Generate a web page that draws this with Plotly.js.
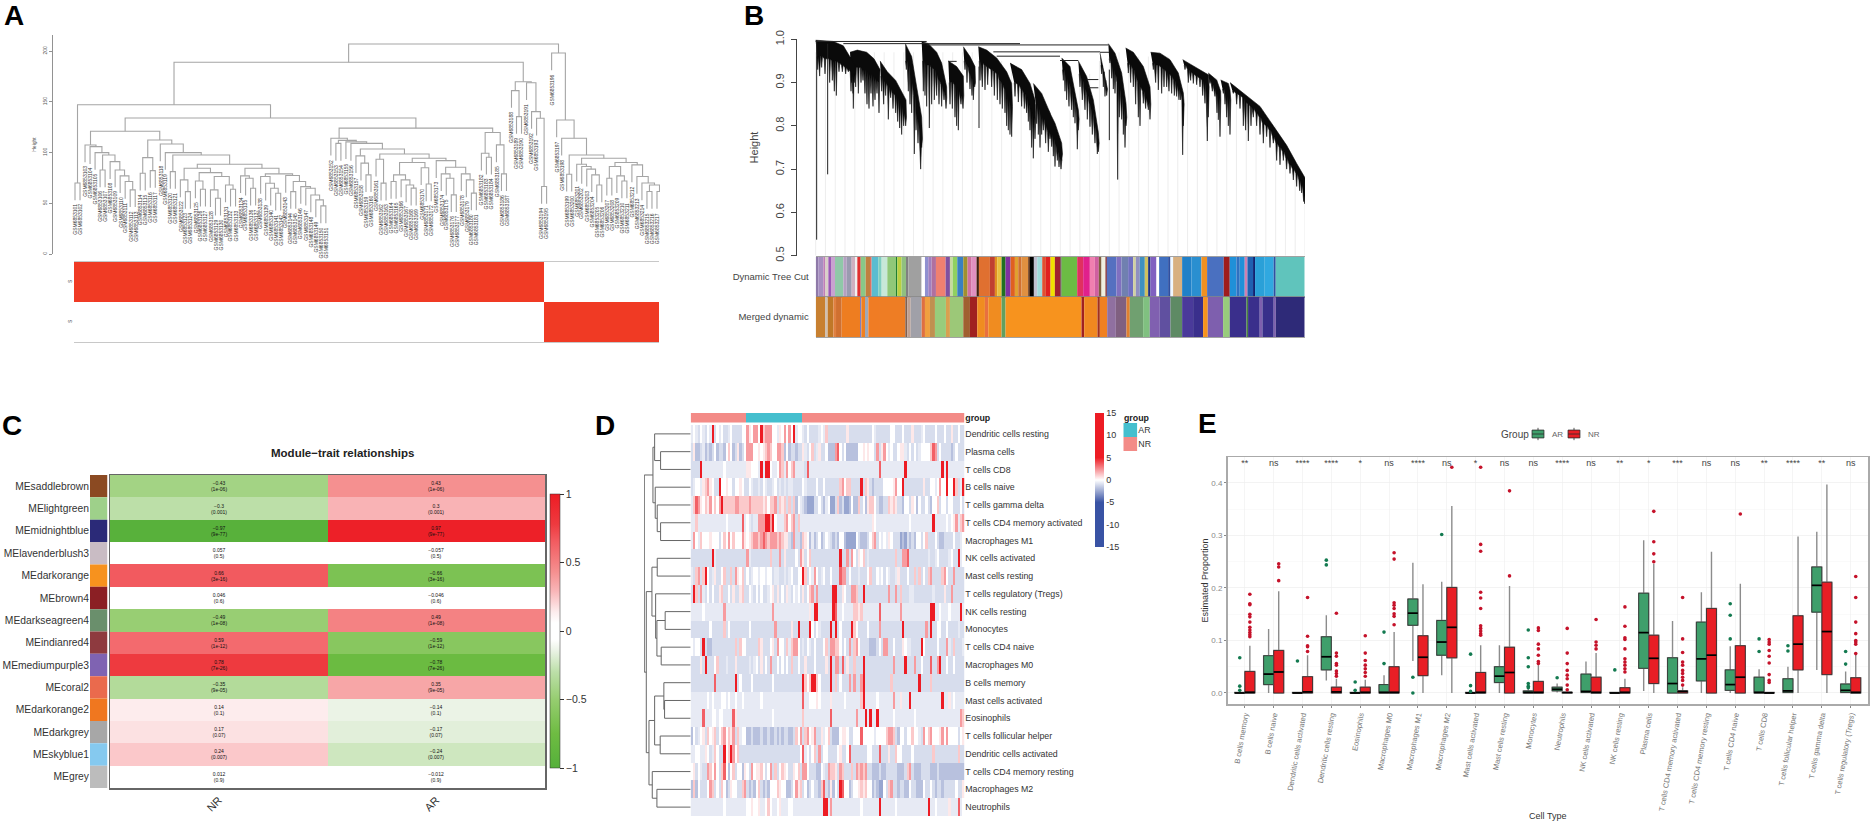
<!DOCTYPE html>
<html><head><meta charset="utf-8">
<script src="https://cdn.plot.ly/plotly-3.0.1.min.js"></script>
<style>html,body{margin:0;padding:0;background:#fff}#p{width:1870px;height:821px}</style></head>
<body><div id="p"></div>
<script>
/* ---------- Panel A: sample tree (node = [height, left, right], L = leaf) ---------- */
const L = 0;
const sampleTreeStair = [107.4,L,[105.8,L,[99.9,L,[97.6,[82.8,L,L],[91,L,[82.8,L,[77,L,[71.4,L,[63.2,L,L]]]]]]]]];
const sampleTreeMid7 = [84.5,[73,L,[61.5,L,L]],[80.2,[72,L,[63.8,L,L]],[76.3,[63.2,L,[55,L,L]],[68,L,[63.8,L,L]]]]];
const sampleTreeMid10 = [84.5,[77,L,[74.6,L,[64.8,L,L]]],[79,[76.3,L,[69.7,L,[64.8,L,[59.9,L,L]]]],[77.3,L,[71.4,[61.5,L,L],[66.4,L,[64.8,L,[58.2,L,[53.3,L,[47.4,L,L]]]]]]]]];
const sampleTreeN1 = [112.4,[95,[79.6,L,L],[82.2,L,L]],[108.4,L,[99.9,L,[97.6,[81.2,L,L],[88.4,sampleTreeMid7,sampleTreeMid10]]]]];
const sampleTreeT1 = [103.5,[96.7,L,[89.5,L,[78,L,L]]],[98.6,[93.4,L,[69.8,L,L]],[94.4,[90.1,[78,[71.4,L,L],[73,L,[68,L,[64.9,L,L]]]],[85,L,[69,L,L]]],[92,L,[85.5,[79,L,[74.7,L,[58.3,L,L]]],[79,L,[73,L,[60,L,L]]]]]]]];
const sampleTreeM = [114,L,[112,[109,L,L],[110.5,L,[109,L,sampleTreeT1]]]];
const sampleTreeG1b = [124,sampleTreeM,[119.7,[99.3,L,[95.4,L,L]],[107.5,L,[79,L,L]]]];
const sampleTreeNR = [189,[147,[70,L,L],[134,[121,sampleTreeStair,sampleTreeN1],sampleTreeG1b]],[169.8,[161,L,[135.4,L,L]],[168.8,L,[140.3,L,[133.7,L,[66.5,L,L]]]]]];
const sampleTreeAR = [198,L,[132,L,[114,L,[97.6,[78.6,L,L],[94.4,[88.5,L,[86.2,L,[83.6,L,[78,L,[68,L,L]]]]],[90.1,[86.2,[74.7,L,L],[77,L,[72,L,L]]],[87.8,L,[76.3,L,[70,L,[68,[61.6,L,L],[61.6,L,L]]]]]]]]]]];
const sampleTree = [207,sampleTreeNR,sampleTreeAR];
const sampleCounts = {NR:94, AR:23};
const sampleTicks = [0,50,100,150,200];

/* ---------- Panel B: gene tree: top arcs [rank,height], teeth [rank,rootHeight,tipHeight] ---------- */
const geneBranchTop = [
 [[0,.998],[53,.995],[83,.985],[103,.96],[118,.94]],
 [[103,.97],[125,.975],[153,.97],[175,.955],[193,.93]],
 [[193,.95],[215,.925],[240,.905],[271,.86]],
 [[269,.99],[288,.96],[303,.89],[318,.82]],
 [[318,.995],[338,.99],[363,.97],[378,.945],[393,.89]],
 [[398,.95],[423,.937],[443,.915]],
 [[443,.983],[463,.96],[478,.937]],
 [[488,.983],[513,.975],[543,.957],[573,.925],[588,.898]],
 [[583,.945],[618,.93],[643,.898],[658,.86]],
 [[653,.898],[678,.875],[703,.83]],
 [[698,.837],[718,.806],[738,.76]],
 [[738,.957],[763,.937],[788,.837]],
 [[788,.95],[813,.914],[833,.86],[848,.785]],
 [[853,.968],[873,.89]],
 [[878,.99],[898,.968],[918,.922],[931,.852]],
 [[930,.98],[953,.97],[983,.937],[1003,.89]],
 [[1005,.97],[1033,.968],[1063,.953],[1088,.922],[1103,.876]],
 [[1101,.953],[1143,.933],[1178,.918]],
 [[1178,.922],[1203,.906],[1215,.88]],
 [[1215,.906],[1238,.898],[1243,.883]],
 [[1243,.90],[1293,.87],[1333,.845],[1373,.80],[1413,.755],[1443,.713],[1468,.68]]
];
const geneBranchTeeth = [
 [[6,.96,.93],[12,.96,.915],[18,.96,.935],[28,.955,.92],[42,.955,.90],[50,.95,.905],[56,.95,.88],[62,.95,.87],[70,.945,.925],[80,.94,.925],[90,.935,.92],[98,.93,.925],[106,.925,.88],[112,.92,.875],[116,.92,.90]],
 [[108,.935,.90],[113,.93,.84],[120,.935,.89],[128,.935,.875],[136,.935,.90],[142,.93,.905],[148,.93,.875],[154,.925,.85],[160,.92,.84],[166,.92,.875],[172,.915,.845],[178,.91,.86],[184,.905,.875],[190,.90,.83]],
 [[198,.915,.88],[204,.905,.85],[210,.9,.87],[218,.89,.815],[225,.885,.865],[232,.875,.84],[240,.87,.83],[246,.865,.81],[252,.855,.795],[258,.845,.78],[264,.83,.80],[270,.82,.80]],
 [[272,.95,.93],[278,.94,.88],[283,.92,.85],[288,.90,.83],[296,.87,.735],[301,.83,.79],[307,.81,.76],[315,.76,.70],[318,.77,.75]],
 [[323,.95,.88],[328,.945,.87],[333,.94,.845],[341,.94,.795],[348,.935,.85],[356,.93,.86],[363,.92,.87],[370,.905,.85],[378,.895,.845],[385,.88,.86],[391,.865,.84]],
 [[403,.90,.85],[410,.9,.84],[418,.895,.82],[423,.89,.80],[428,.88,.79],[436,.87,.85],[442,.87,.84]],
 [[448,.95,.93],[454,.94,.90],[463,.92,.885],[469,.91,.87],[473,.9,.86],[477,.9,.89]],
 [[493,.95,.905],[500,.945,.89],[508,.94,.883],[516,.935,.895],[528,.93,.89],[536,.925,.87],[545,.92,.86],[553,.905,.85],[560,.895,.84],[568,.885,.83],[573,.87,.80],[578,.86,.79],[583,.85,.78],[588,.845,.775]],
 [[598,.90,.868],[608,.895,.855],[618,.885,.845],[626,.875,.84],[633,.865,.83],[638,.85,.81],[643,.84,.79],[648,.83,.75],[653,.82,.725],[658,.815,.77]],
 [[663,.85,.805],[668,.84,.78],[673,.83,.75],[678,.82,.78],[683,.815,.79],[690,.80,.76],[698,.785,.74],[703,.78,.77]],
 [[708,.78,.752],[713,.77,.73],[718,.76,.706],[725,.74,.72],[730,.73,.705],[736,.72,.70],[738,.735,.72]],
 [[743,.93,.905],[748,.92,.88],[753,.91,.86],[760,.90,.845],[768,.88,.837],[773,.865,.82],[778,.85,.806],[785,.82,.746],[788,.815,.79]],
 [[793,.92,.89],[800,.905,.86],[808,.885,.837],[815,.87,.815],[823,.85,.798],[830,.83,.78],[838,.80,.76],[845,.77,.735],[848,.76,.74]],
 [[858,.94,.92],[863,.925,.89],[868,.905,.868],[873,.885,.87]],
 [[883,.955,.945],[888,.94,.91],[893,.93,.885],[898,.92,.875],[906,.90,.676],[911,.885,.82],[918,.87,.815],[923,.84,.78],[928,.82,.75],[931,.82,.80]],
 [[938,.945,.922],[945,.94,.90],[953,.93,.89],[960,.915,.85],[968,.90,.82],[973,.89,.80],[983,.88,.852],[990,.865,.84],[998,.855,.837],[1003,.85,.815]],
 [[1013,.945,.93],[1020,.94,.90],[1028,.94,.883],[1038,.935,.875],[1045,.93,.89],[1053,.925,.89],[1060,.92,.88],[1068,.915,.875],[1076,.905,.87],[1083,.895,.868],[1090,.885,.86],[1095,.875,.86],[1101,.86,.733],[1103,.85,.80]],
 [[1108,.94,.93],[1118,.93,.90],[1125,.925,.905],[1133,.92,.898],[1143,.915,.895],[1153,.91,.89],[1161,.905,.87],[1168,.90,.852],[1175,.895,.765],[1178,.89,.82]],
 [[1183,.905,.898],[1190,.895,.88],[1198,.885,.868],[1204,.875,.83],[1208,.865,.814],[1213,.86,.775]],
 [[1223,.885,.875],[1228,.875,.85],[1233,.87,.82],[1238,.865,.80],[1243,.86,.78]],
 [[1253,.88,.875],[1263,.875,.85],[1273,.87,.84],[1283,.865,.80],[1290,.855,.79],[1298,.85,.765],[1306,.845,.80],[1313,.84,.82],[1323,.83,.80],[1333,.82,.78],[1343,.805,.76],[1353,.80,.775],[1363,.79,.75],[1373,.775,.76],[1383,.76,.72],[1393,.75,.71],[1403,.74,.72],[1413,.725,.70],[1423,.71,.69],[1433,.70,.675],[1443,.69,.66],[1452,.675,.65],[1458,.665,.645],[1464,.65,.625],[1467,.645,.62]]
];
const geneSpikes = [[3,.998,.537],[36,.99,.688],[490,.937,.795],[881,.93,.767]];
const geneTopLinks = [[.995,0,333],[.99,83,613],[.987,333,878],[.971,533,853],[.961,543,733],[.951,733,788],[.907,813,848],[.888,818,848],[.949,398,423],[.97,853,880]];
const geneGuideTops = [.97,.97,.97,.97,.97,.97,.97,.97,.97,.97,.97,.97,.97,.97,.97,.97,.97,.97,.96,.95,.94,.93,.90,.875,.83,.76,.937,.93,.92,.95,.97,.97,.97,.96,.96,.96,.96,.92,.94,.93,.92,.91,.905,.885,.87,.85,.82,.80,.75,.72,.68];
const geneAxisTicks = [0.5,0.6,0.7,0.8,0.9,1.0];
/* module bands: last gene rank of each band, then its colour */
const treeCutEnds = [8,23,28,38,46,58,83,93,108,118,125,135,150,163,168,188,198,215,241,245,258,271,278,318,328,338,348,361,390,403,411,425,443,456,468,483,490,523,538,545,558,570,585,598,608,618,638,643,655,665,680,691,705,718,735,738,785,803,823,838,850,858,870,874,903,918,938,953,961,973,988,998,1005,1023,1031,1058,1065,1073,1100,1128,1158,1175,1225,1243,1263,1273,1288,1296,1313,1319,1348,1375,1381,1468];
const treeCutColors = ['#8e79a8','#a78fc0','#c07fb8','#d9cfc9','#9b59b6','#c8a2d0','#8fc8a8','#b4a0c0','#9a9ab0','#d0b0c0','#f0f0f0','#e03030','#88c888','#c08040','#e07060','#5bbcd0','#80cfc0','#c8e8d8','#90c878','#208030','#b8d040','#90c080','#808080','#a0a0a0','#ffffff','#9090d0','#a080c0','#b070a0','#f08070','#8050a0','#c8d8a0','#90d060','#3a80c0','#a09030','#d070a0','#e090c0','#402010','#e07030','#c04030','#e09020','#e8c040','#207020','#8030a0','#e06020','#e0a030','#d07030','#e09040','#603010','#000000','#c0c0d0','#a0d8d8','#e05030','#e02020','#f0e000','#a02030','#333333','#6cbc44','#e03060','#e0208c','#f080b0','#d060a0','#806040','#f0f0e0','#802020','#5570c0','#8070c0','#7080b0','#7070c0','#d0d0a0','#9090c0','#4090c0','#d0c060','#203080','#8060c0','#ffffff','#4070c0','#3050a0','#f0f8ff','#d8b080','#2080c8','#2a8fd0','#f09020','#4a70c0','#a01c1c','#2090d8','#3070c0','#2090d8','#d080b0','#2060b0','#102070','#2aa0d8','#30a8e0','#3050a0','#60c4bc'];
const mergedEnds = [28,36,53,61,78,133,137,148,158,193,269,275,285,318,328,343,358,391,403,443,463,485,508,518,558,570,798,806,846,853,875,901,933,943,983,1003,1033,1065,1100,1133,1163,1177,1223,1243,1293,1298,1333,1341,1375,1381,1468];
const mergedColors = ['#c88030','#d0c0b0','#c07828','#e08040','#d07030','#ee7d20','#8080c0','#f08020','#a0a8b8','#f07c24','#ee7d24','#806050','#c0a090','#a0a0a8','#e07040','#f0a040','#c09050','#98cc7c','#d8a050','#9cc878','#a06030','#a02020','#f08c20','#e87040','#f08c20','#60a060','#f7931e','#a02020','#f08820','#a03020','#f08020','#9070a0','#806080','#e08030','#70a070','#80c080','#8060b0','#6050a0','#5e8a64','#4a3a9a','#3a2f8c','#f7931e','#7e5fae','#98cc7c','#3a2f8c','#4a8040','#3a2f8c','#7e5fae','#382f8a','#7e5fae','#2e2a78'];

/* ---------- Panel C ---------- */
const moduleNames = ['MEsaddlebrown','MElightgreen','MEmidnightblue','MElavenderblush3','MEdarkorange','MEbrown4','MEdarkseagreen4','MEindianred4','MEmediumpurple3','MEcoral2','MEdarkorange2','MEdarkgrey','MEskyblue1','MEgrey'];
const moduleColors = ['#8b4a22','#9ed08a','#2b2a78','#c9bcc4','#f7921e','#8b1f24','#6a8f6c','#8e3a3f','#7f63b2','#ea6a4d','#f0771f','#a7a7a7','#85c9ef','#bcbcbc'];
const traitNames = ['NR','AR'];
const corrNR = [-0.43,-0.3,-0.97,0.057,0.66,0.046,-0.49,0.59,0.78,-0.35,0.14,0.17,0.24,0.012];
const corrAR = [0.43,0.3,0.97,-0.057,-0.66,-0.046,0.49,-0.59,-0.78,0.35,-0.14,-0.17,-0.24,-0.012];
const corrP = ['1e-06','0.001','9e-77','0.5','3e-16','0.6','1e-08','1e-12','7e-26','9e-05','0.1','0.07','0.007','0.9'];

/* ---------- Panel D ---------- */
const cellRows = ['Dendritic cells resting','Plasma cells','T cells CD8','B cells naive','T cells gamma delta','T cells CD4 memory activated','Macrophages M1','NK cells activated','Mast cells resting','T cells regulatory (Tregs)','NK cells resting','Monocytes','T cells CD4 naive','Macrophages M0','B cells memory','Mast cells activated','Eosinophils','T cells follicular helper','Dendritic cells activated','T cells CD4 memory resting','Macrophages M2','Neutrophils'];
const rowTree = [46.7,[38,[36.3,L,[30.3,L,L]],[35.7,L,[33.7,L,[30.3,L,L]]]],[44.7,[39,[33.7,L,L],[35.3,L,[34,[25.7,L,L],[29.7,L,L]]]],[42,[36.3,[27,L,[26.3,L,L]],[30.7,L,L]],[38.7,L,[34,L,L]]]]];
const scoreLevels = {a:-2.6,b:-1.8,c:-1,l:-.6,w:0,p:.5,q:1.2,r:2.2,s:3.5,t:5};
const scoreRows = [
'lwlcwlcwlt cwlwcclwcc ccwwrpwrrw tqrrrwwlpw rwrwtlwwlc wcccclwlqc cccccccpcc ccccccccwl ccccccwwcc cwcccpcccl wccccwcccw ccpccwcc',
'cpbbclbcbc wbccbwqwbc pbcwrrrwwp wpqrqwwrrq bwbccbccpl cwqclpccwb bbrswcwbbb bbwwpwpwwc rcprwlwccw pplcwcwclw wwwqsrcwcc ccbcwccc',
'cccctlllll llllwlllll llllppwwwl tlttwllwrq lrwqrllllc slllllllll llllllllll llllllllll lsllllllll lltlllllll lllllllltl tlllllll',
'clwwlpqrpw cctwwpwwcw wpwccwlccl cwlcclwclc lcllccccwl ccccwccwcc ccccqrwqqc ccctcqpcbc cccwwwwprw wtcccccccc pccwwlwrww twwtqclt',
'lqsrpwqprw qwrtqqqqqr rqqqqrqqqq qpqwqqrcqp qcqcqbwlcb aaaccwcblw aacqbcaabw bbqcwbpqqw cbbccqpqpc cbwwcpwbwc cwcbwwqcww cwwcccwc',
'llqlllllll lllllwllll llslwlcllr rrttrtwlll qrwqrcqlll llllllllll llllllllll llllllllpw llllllllll llllwlllll lllltlllll wlwprlqr',
'lrwlqwwwpw wwcwqwrwqw wwrpwpqrrq rsrqrrrqrq ppcbrccbqp wblbcwbcwl cbcbwwbaaa awcbbbcwqr cwlwlpwccc abacbcbwwc wqcccwcbbc cccwcclw',
'ccccccccct lccccccccc ccccrlcccc ccccqcccrc pccccwcrpc wqcccccccc cccctccrcr wcpwqclccc ccccccccqc crrscccccc cclcclwccc clwcctlw',
'lcqrcqtwcl pccwqccqcr pwqcwclwwl wwlwwcllcc lclwccwwtq cwlrwclwcc wcccsrrcwc cclcccwqcc wlwcwlcclp cccwccqcqc wcqrccccqr wccrcccc',
'ctqcrlcwcw ccpqccwcpc cpqccwlcwc wcclwpcpcw cplcwlwcpc wqrcrccccc cttccpwccr rqcctccccc cccccrccrc qcccllcccc cccclccccp ccrccccc',
'lllllwllll llllrlllll llllllllll lllllrllll llllllllll lplttlllll ltsllwllll qqpqllllll lsllllllll rlllllllll llltt llwll lwlllltl',
'ccccccccwc ccccqcwccc cccccwcccc ccccccrccc cccpcctccc ctwcwlcccc tctcwcccct qwccccwccc crcccccccc ctcccccccc crctccwwcc wcccclcc',
'wlwwctcbbc cccccccccq cqwwcccccq pcccwpcrww cqlqrrwclc wlcwcccwqc rrqqwcwcrc qrwccccbbb cwcrrccwcc cpwllcccct wcccccwccc rlcqcccl',
'ccccpctccc wqccclcccp ccccclclwc pcwcrccwcw cwcqccwccp cccwccccpc tcrrcscpcc qccctccccc cccccccrcc cctcccrccw cccsccrtcc wccwcccc',
'cccccccccc scccccccct cwccccwccc cccccwcccc cccccccctq wqttqwcccc tcqcwcccrc rccrtccccc ccccccqccc cccccccctc cccqcccccc cccccccc',
'lllllllwlw lllwwlwllw llwlllllll wlllllllll llllllllsl lwwwpwllll plllllwlll lllqtlllll wllllllrll pllltlllll lllllllltl lplwllll',
'lllllslllw wlwwllllsp llllllllll lllllwllll llllllllql llllllllll slllllllll lrllltltll tllllllwll llllllwlll llllllllll llllllrq',
'bwclwpcqwp qcwqrwqprc qlwwbbcbbb cbbcbbcbcb ccbbcqwrcq rwprccplwq cbbbwppwcc wwwswwwwwl wwwwqrrqcb wwcwwqwwlc rwqrwwwprw rwwwwcwp',
'llwwllpwcl qwcctwqtrw qccccccccc cccccccccc cccccccwsl wcwqcrcwwc cccwpccwsc ccccccwwcc cscccpccqw wccccwcccc ccccqccccc cccccqcc',
'wpcwlccrqw rwcqswbwqc wwbpwcrwpp qwcwrcqcwq pwccpwqcrr wcccbbwlcr qqpcrqcccq crqrqrccbb bcbbcccccb bbcqrcbbbc cccbbbcbbb bbbbbbbb',
'bqbwcccwrq cwcqwbcpww ccqrcbcbwq cbcbwwwqpw wbbcwrpqcw bcwccbqscb pbwctswwbc wwpqpqwwbc baawcqrccb ccbbwccbbb wccwcbccbc ccccwccp',
'llllllllll llllwlllll llllwwpwwp llwqwllwpl llwwllllll lllllllttl rlllllllll lllwllllll ltllllllwl llllllllll lltllwllll lplllslw'
];
const groupNames = ['AR','NR'];
const sampleGroupCounts = [['NR',24],['AR',24],['NR',70]];
const scoreTicks = [15,10,5,0,-5,-10,-15];

/* ---------- Panel E ---------- */
const cellTypes = ['B cells memory','B cells naive','Dendritic cells activated','Dendritic cells resting','Eosinophils','Macrophages M0','Macrophages M1','Macrophages M2','Mast cells activated','Mast cells resting','Monocytes','Neutrophils','NK cells activated','NK cells resting','Plasma cells','T cells CD4 memory activated','T cells CD4 memory resting','T cells CD4 naive','T cells CD8','T cells follicular helper','T cells gamma delta','T cells regulatory (Tregs)'];
const signif = ['**','ns','****','****','*','ns','****','ns','*','ns','ns','****','ns','**','*','***','ns','ns','**','****','**','ns'];
const arQ1  = [0,.016,0,.044,0,0,.129,.072,0,.02,0,.004,.001,0,.047,0,.023,.005,0,.001,.154,.001];
const arMed = [0,.036,0,.069,0,.001,.152,.097,0,.032,.001,.007,.003,0,.115,.018,.065,.016,.001,.004,.205,.005];
const arQ3  = [.001,.071,.001,.107,.001,.016,.179,.138,.001,.05,.004,.011,.036,.001,.19,.067,.135,.044,.03,.027,.24,.017];
const arLow = [0,0,0,.024,0,0,.061,.034,0,0,0,.001,0,0,.004,0,0,0,0,0,.044,0];
const arUp  = [.001,.122,.001,.148,.001,.034,.248,.212,.001,.091,.01,.018,.06,.001,.291,.137,.192,.089,.045,.05,.307,.041];
const nrQ1  = [0,0,0,0,0,0,.033,.067,0,0,0,0,0,0,.018,0,0,0,0,.044,.035,0];
const nrMed = [.001,.04,.002,.002,.001,.001,.068,.125,.001,.039,.001,.001,.001,.001,.066,.003,.072,.03,0,.093,.117,.001];
const nrQ3  = [.041,.081,.031,.011,.011,.05,.109,.201,.039,.087,.022,.001,.03,.01,.11,.004,.161,.09,.001,.147,.211,.029];
const nrLow = [0,0,0,0,0,0,0,0,0,0,0,0,0,0,0,0,0,0,0,0,0,0];
const nrUp  = [.09,.194,.072,.027,.025,.116,.207,.356,.091,.204,.053,.002,.076,.027,.246,.011,.269,.208,.001,.298,.397,.075];
const arOut = [[.067,.013,.005],[],[.061],[.253,.244],[.021,.005],[.116,.056],[.03,0],[.302],[.074,.014,.003],[],[.12,.067,.05,.018,.013,.01],[.029],[],[.044],[],[],[],[.17,.148,.103],[.103,.079],[.09,.08],[],[.079,.055]];
const nrOut = [[.188,.17,.168,.15,.145,.135,.125,.12,.115,.111,.107],[.246,.24,.214],[.182,.108,.09,.088,.079],[.152,.076,.07,.056,.053,.042,.037,.032],[.109,.076,.062,.053,.046,.039,.032],[.267,.255,.172,.167,.161,.151,.146,.13],[],[.43],[.43,.283,.27,.192,.181,.161,.128,.123,.118,.113,.11],[.385,.223],[.124,.119,.093,.084,.072,.06,.056],[.123,.076,.056,.043,.034,.027,.015,.006],[.14,.097,.091,.084],[.164,.127,.105,.102,.084,.065,.059,.053,.046,.04],[.346,.288,.265,.25],[.182,.103,.077,.059,.053,.043,.037,.03,.024,.015],[],[.341],[.102,.097,.093,.081,.07,.057,.035,.024,.02],[],[],[.222,.182,.135,.113,.1,.097,.093,.075]];
const propTicks = [0,.1,.2,.3,.4];

/* ---------- helpers ---------- */
const W=1870,H=821;
const fx=(a,b)=>[a/W,b/W];
const fy=(top,bot)=>[1-bot/H,1-top/H];
const FONT='"Liberation Sans", Arial, sans-serif';
function walkTree(node,hang){
  let leaf=0; const segA=[],segH=[],leaves=[];
  function go(n,parentH){
    if(!Array.isArray(n)){ const p=leaf++; const bottom=hang===null?0:parentH-hang; leaves.push({p,h:bottom}); return {p,h:bottom}; }
    const a=go(n[1],n[0]), b=go(n[2],n[0]);
    segA.push(a.p,a.p,b.p,b.p,null); segH.push(a.h,n[0],n[0],b.h,null);
    return {p:(a.p+b.p)/2,h:n[0]};
  }
  go(node,node[0]);
  return {segA,segH,leaves};
}
const traces=[], annotations=[];
const layout={width:W,height:H,margin:{l:0,r:0,t:0,b:0},paper_bgcolor:'#fff',plot_bgcolor:'rgba(0,0,0,0)',font:{family:FONT,color:'#333'},showlegend:false,annotations,boxmode:'overlay'};

/* Panel letters */
[['A',2,15],['B',742,15],['C',0,425],['D',593,425],['E',1196,424]].forEach(([t,x,y])=>annotations.push({text:'<b>'+t+'</b>',xref:'paper',yref:'paper',x:x/W,y:1-y/H,xanchor:'left',yanchor:'middle',showarrow:false,font:{size:28,color:'#000'}}));

/* ---- A ---- */
layout.xaxis={domain:fx(53,660),range:[-4.385,116.6],visible:false,anchor:'y'};
layout.yaxis={domain:fy(35,254),range:[0,215.8],anchor:'x',showline:true,linecolor:'#777',linewidth:.8,ticks:'outside',ticklen:3,tickcolor:'#777',tickwidth:.8,tickvals:sampleTicks,tickangle:-90,tickfont:{size:5,color:'#555'},showgrid:false,zeroline:false,title:{text:'Height',font:{size:5,color:'#555'},standoff:5}};
const treeA=walkTree(sampleTree,17);
traces.push({type:'scatter',mode:'lines',x:treeA.segA,y:treeA.segH,xaxis:'x',yaxis:'y',line:{color:'#a5a5a5',width:1.1},hoverinfo:'skip'});
treeA.leaves.forEach((l,i)=>annotations.push({text:'GSM'+(6853101+i),xref:'x',yref:'y',x:l.p,y:l.h-3,xanchor:'center',yanchor:'top',textangle:-90,showarrow:false,font:{size:5,color:'#333'},borderpad:0}));
const nSamples=sampleCounts.NR+sampleCounts.AR;
const rowNR=Array.from({length:nSamples},(_,i)=>i<sampleCounts.NR?1:0), rowAR=rowNR.map(v=>1-v);
layout.xaxis2={domain:fx(74,659),range:[-.5,nSamples-.5],anchor:'y2',showticklabels:false,ticks:'',showline:true,mirror:true,linecolor:'#c8c8c8',linewidth:1,showgrid:false,zeroline:false};
layout.yaxis2={domain:fy(262,342),range:[1.5,-.5],anchor:'x2',tickvals:[0,1],ticktext:['S','S'],tickangle:-90,ticks:'',tickfont:{size:5,color:'#444'},showline:false,showgrid:false,zeroline:false};
traces.push({type:'heatmap',z:[rowNR,rowAR],xaxis:'x2',yaxis:'y2',showscale:false,zmin:0,zmax:1,colorscale:[[0,'#ffffff'],[1,'#f03a24']],hoverinfo:'skip'});

/* ---- B ---- */
layout.xaxis3={domain:fx(797,1305),range:[-56,1468],visible:false,anchor:'y3'};
layout.yaxis3={domain:fy(39.3,255.7),range:[.5,1],anchor:'x3',showline:true,linecolor:'#444',linewidth:1,ticks:'outside',ticklen:5,tickcolor:'#444',tickvals:geneAxisTicks,tickformat:'.1f',tickangle:-90,tickfont:{size:11,color:'#444'},ticklabelstandoff:3,showgrid:false,zeroline:false,title:{text:'Height',font:{size:11,color:'#444'},standoff:12}};
const gx=[],gy=[];
geneGuideTops.forEach((t,k)=>{const p=k*1468/50; gx.push(p,p,null); gy.push(.5,t,null);});
traces.push({type:'scatter',mode:'lines',x:gx,y:gy,xaxis:'x3',yaxis:'y3',line:{color:'#e8e8e8',width:.8},hoverinfo:'skip',cliponaxis:false});
const polyX=[],polyY=[];
const toothHalf=2.4;
geneBranchTop.forEach((top,i)=>{
  top.forEach(p=>{polyX.push(p[0]);polyY.push(p[1]);});
  geneBranchTeeth[i].slice().reverse().forEach(t=>{polyX.push(t[0]+toothHalf,t[0],t[0]-toothHalf);polyY.push(t[1],t[2],t[1]);});
  polyX.push(null);polyY.push(null);
});
traces.push({type:'scatter',mode:'lines',x:polyX,y:polyY,xaxis:'x3',yaxis:'y3',fill:'toself',fillcolor:'#0a0a0a',line:{color:'#0a0a0a',width:.6},hoverinfo:'skip',cliponaxis:false});
const sx=[],sy=[];
geneSpikes.forEach(s=>{sx.push(s[0],s[0],null);sy.push(s[1],s[2],null);});
geneTopLinks.forEach(s=>{sx.push(s[1],s[2],null);sy.push(s[0],s[0],null);});
traces.push({type:'scatter',mode:'lines',x:sx,y:sy,xaxis:'x3',yaxis:'y3',line:{color:'#222',width:1},hoverinfo:'skip',cliponaxis:false});
function bandTrace(ends,colors,xa,ya){
  const x=[],w=[];let prev=0;ends.forEach(e=>{x.push((prev+e)/2);w.push(e-prev);prev=e;});
  return {type:'bar',x,width:w,y:ends.map(()=>1),marker:{color:colors,line:{width:0}},xaxis:xa,yaxis:ya,hoverinfo:'skip'};
}
const bandX={range:[0,1468],showticklabels:false,ticks:'',showgrid:false,zeroline:false,showline:true,mirror:true,linecolor:'#666',linewidth:.6};
layout.xaxis4=Object.assign({},bandX,{domain:fx(815.7,1304.7),anchor:'y4'});
layout.yaxis4={domain:fy(256.7,296.7),range:[0,1],anchor:'x4',tickvals:[.5],ticktext:['Dynamic Tree Cut'],ticks:'',ticklabelstandoff:6,tickfont:{size:9.5,color:'#444'},showgrid:false,zeroline:false};
layout.xaxis5=Object.assign({},bandX,{domain:fx(815.7,1304.7),anchor:'y5'});
layout.yaxis5={domain:fy(296.7,337),range:[0,1],anchor:'x5',tickvals:[.5],ticktext:['Merged dynamic'],ticks:'',ticklabelstandoff:6,tickfont:{size:9.5,color:'#444'},showgrid:false,zeroline:false};
traces.push(bandTrace(treeCutEnds,treeCutColors,'x4','y4'));
traces.push(bandTrace(mergedEnds,mergedColors,'x5','y5'));

/* ---- C ---- */
layout.xaxis6={domain:fx(90,107.5),range:[0,1],visible:false,anchor:'y6'};
layout.yaxis6={domain:fy(475,788),type:'category',categoryorder:'array',categoryarray:moduleNames,autorange:'reversed',anchor:'x6',ticks:'',tickfont:{size:10.3,color:'#333'},showgrid:false,zeroline:false,showline:false};
traces.push({type:'bar',orientation:'h',y:moduleNames,x:moduleNames.map(()=>1),marker:{color:moduleColors,line:{width:0}},width:1,xaxis:'x6',yaxis:'y6',hoverinfo:'skip'});
const corrZ=moduleNames.map((_,i)=>[corrNR[i],corrAR[i]]);
const fmtR=v=>String(v).replace('-','\u2212');
const corrT=moduleNames.map((_,i)=>[fmtR(corrNR[i])+'<br>('+corrP[i]+')',fmtR(corrAR[i])+'<br>('+corrP[i]+')']);
layout.xaxis7={domain:fx(110,545),type:'category',anchor:'y7',tickangle:-45,ticks:'',tickfont:{size:11,color:'#333'},showline:true,mirror:true,linecolor:'#666',linewidth:1.5,showgrid:false,zeroline:false};
layout.yaxis7={domain:fy(475,788),type:'category',autorange:'reversed',anchor:'x7',showticklabels:false,ticks:'',showline:true,mirror:true,linecolor:'#666',linewidth:1.5,showgrid:false,zeroline:false};
const greenRed=[[0,'#55b03a'],[.125,'#6ebc42'],[.25,'#96cd70'],[.35,'#bcdfa8'],[.43,'#ebf3e6'],[.47,'#ffffff'],[.53,'#ffffff'],[.57,'#fdeced'],[.65,'#f9b3b5'],[.715,'#f59090'],[.83,'#f25a5f'],[.89,'#ee3a3f'],[1,'#ed1c24']];
traces.push({type:'heatmap',z:corrZ,x:traitNames,y:moduleNames,text:corrT,texttemplate:'%{text}',textfont:{size:5,color:'#111'},zmin:-1,zmax:1,colorscale:greenRed,xaxis:'x7',yaxis:'y7',hoverinfo:'skip',
  colorbar:{x:550/W,xanchor:'left',y:1-768/H,yanchor:'bottom',lenmode:'pixels',len:274,thicknessmode:'pixels',thickness:9.5,xpad:0,ypad:0,outlinewidth:.5,outlinecolor:'#333',tickvals:[-1,-.5,0,.5,1],ticks:'outside',ticklen:4,tickcolor:'#333',tickfont:{size:10.5,color:'#333'}}});
annotations.push({text:'<b>Module\u2212trait relationships</b>',xref:'paper',yref:'paper',x:342/W,y:1-453/H,xanchor:'center',yanchor:'middle',showarrow:false,font:{size:11.5,color:'#222'}});

/* ---- D ---- */
layout.xaxis8={domain:fx(644,690.7),range:[47,0],visible:false,anchor:'y8'};
layout.yaxis8={domain:fy(425,816),range:[21.5,-.5],visible:false,anchor:'x8'};
const treeD=walkTree(rowTree,null);
traces.push({type:'scatter',mode:'lines',x:treeD.segH,y:treeD.segA,xaxis:'x8',yaxis:'y8',line:{color:'#666',width:1},hoverinfo:'skip'});
const groupRow=[];sampleGroupCounts.forEach(([g,n])=>{for(let i=0;i<n;i++)groupRow.push(g==='AR'?0:1);});
layout.xaxis9={domain:fx(690.7,964.3),range:[-.5,117.5],visible:false,anchor:'y9'};
layout.yaxis9={domain:fy(413,422.5),range:[-.5,.5],side:'right',anchor:'x9',tickvals:[0],ticktext:['<b>group</b>'],ticks:'',tickfont:{size:8.8,color:'#222'},showgrid:false,zeroline:false};
traces.push({type:'heatmap',z:[groupRow],xaxis:'x9',yaxis:'y9',showscale:false,zmin:0,zmax:1,colorscale:[[0,'#45bfce'],[.5,'#45bfce'],[.5,'#f38b87'],[1,'#f38b87']],hoverinfo:'skip'});
const scoreZ=scoreRows.map(s=>[...s.replace(/ /g,'')].map(c=>scoreLevels[c]));
layout.xaxis10={domain:fx(690.7,964.3),range:[-.5,117.5],visible:false,anchor:'y10'};
layout.yaxis10={domain:fy(425,816),type:'category',autorange:'reversed',side:'right',anchor:'x10',ticks:'',tickfont:{size:8.8,color:'#333'},showgrid:false,zeroline:false,dtick:1};
traces.push({type:'heatmap',z:scoreZ,y:cellRows,xaxis:'x10',yaxis:'y10',zmin:-15,zmax:15,colorscale:[[0,'#3953a4'],[1/3,'#3953a4'],[.5,'#ffffff'],[2/3,'#ed1c24'],[1,'#ed1c24']],hoverinfo:'skip',
  colorbar:{x:1095/W,xanchor:'left',y:1-547/H,yanchor:'bottom',lenmode:'pixels',len:134,thicknessmode:'pixels',thickness:9,xpad:0,ypad:0,outlinewidth:0,tickvals:scoreTicks,ticktext:scoreTicks.map(String),ticks:'',tickfont:{size:9,color:'#333'}}});
layout.xaxis11={domain:fx(1123.3,1137.3),range:[-.5,.5],visible:false,anchor:'y11'};
layout.yaxis11={domain:fy(423,451),type:'category',autorange:'reversed',side:'right',anchor:'x11',ticks:'',tickfont:{size:8.8,color:'#333'},showgrid:false,zeroline:false};
traces.push({type:'heatmap',z:[[0],[1]],y:groupNames,xaxis:'x11',yaxis:'y11',showscale:false,zmin:0,zmax:1,colorscale:[[0,'#45bfce'],[.5,'#45bfce'],[.5,'#f38b87'],[1,'#f38b87']],hoverinfo:'skip'});
annotations.push({text:'<b>group</b>',xref:'paper',yref:'paper',x:1122/W,y:1-418/H,xanchor:'left',yanchor:'middle',showarrow:false,font:{size:8.8,color:'#222'}});

/* ---- E ---- */
const catPos=cellTypes.map((_,i)=>i+1);
const dodge=.175, boxW=.345;
layout.xaxis12={domain:fx(1227.5,1868),range:[.4,22.6],anchor:'y12',tickvals:catPos,ticktext:cellTypes,tickangle:-80,ticks:'outside',ticklen:2,tickcolor:'#888',tickfont:{size:7.5,color:'#777'},showline:true,mirror:true,linecolor:'#aaa',linewidth:1.5,showgrid:true,gridcolor:'#efefef',gridwidth:.6,zeroline:false,title:{text:'Cell Type',font:{size:9,color:'#333'},standoff:2}};
layout.yaxis12={domain:fy(457,704),range:[-.021,.4495],anchor:'x12',tickvals:propTicks,tickformat:'.1f',ticks:'outside',ticklen:2,tickcolor:'#888',tickfont:{size:8,color:'#888'},showline:true,mirror:true,linecolor:'#aaa',linewidth:1.5,showgrid:true,gridcolor:'#efefef',gridwidth:.6,minor:{showgrid:true,dtick:.05,gridcolor:'#f6f6f6',gridwidth:.5},zeroline:false,title:{text:'Estimated Proportion',font:{size:9,color:'#333'},standoff:1}};
function groupBox(name,off,fill,q1,med,q3,low,up,outs,outColor){
  const x=catPos.map(p=>p+off);
  traces.push({type:'box',name,x,q1,median:med,q3,lowerfence:low,upperfence:up,width:boxW,whiskerwidth:0,boxpoints:false,line:{color:'#8c8c8c',width:1.4},fillcolor:'rgba(0,0,0,0)',xaxis:'x12',yaxis:'y12',hoverinfo:'skip'});
  traces.push({type:'box',name,x,q1,median:med,q3,lowerfence:q1,upperfence:q3,width:boxW,whiskerwidth:0,boxpoints:false,line:{color:'#2b2b2b',width:.8},fillcolor:fill,xaxis:'x12',yaxis:'y12',hoverinfo:'skip'});
  const mx=[],my=[];
  med.forEach((m,i)=>{mx.push(x[i]-boxW/2,x[i]+boxW/2,null);my.push(m,m,null);});
  traces.push({type:'scatter',mode:'lines',x:mx,y:my,line:{color:'#000',width:1.7},xaxis:'x12',yaxis:'y12',hoverinfo:'skip'});
  const ox=[],oy=[];
  outs.forEach((o,i)=>o.forEach(v=>{ox.push(x[i]);oy.push(v);}));
  traces.push({type:'scatter',mode:'markers',x:ox,y:oy,marker:{color:outColor,size:3.6},xaxis:'x12',yaxis:'y12',hoverinfo:'skip'});
}
const groupFill={AR:'#3f9f6b',NR:'#e81e25'};
groupBox('AR',-dodge,groupFill.AR,arQ1,arMed,arQ3,arLow,arUp,arOut,'#137a50');
groupBox('NR',dodge,groupFill.NR,nrQ1,nrMed,nrQ3,nrLow,nrUp,nrOut,'#c5122a');
traces.push({type:'scatter',mode:'text',x:catPos,y:catPos.map(()=>.436),text:signif,textposition:'middle center',textfont:{size:9,color:'#444'},xaxis:'x12',yaxis:'y12',hoverinfo:'skip'});

/* key for panel E: two small boxes on their own tiny axes */
const keyLegend=['AR','NR'];
layout.xaxis13={domain:fx(1530,1586),range:[-8/36,1+12/36],visible:false,anchor:'y13'};
layout.yaxis13={domain:fy(427,441),range:[0,1],visible:false,anchor:'x13'};
keyLegend.forEach((g,i)=>traces.push({type:'box',name:g,x:[i],q1:[.22],median:[.5],q3:[.78],lowerfence:[.06],upperfence:[.94],width:.33,whiskerwidth:0,boxpoints:false,line:{color:'#2b2b2b',width:.8},fillcolor:groupFill[g],xaxis:'x13',yaxis:'y13',hoverinfo:'skip'}));
[['Group',1499,10,'#444'],['AR',1550,8,'#666'],['NR',1586,8,'#666']].forEach(([t,x,s,c])=>annotations.push({text:t,xref:'paper',yref:'paper',x:x/W,y:1-434/H,xanchor:'left',yanchor:'middle',showarrow:false,font:{size:s,color:c}}));

Plotly.newPlot('p',traces,layout,{displayModeBar:false,staticPlot:true});
</script></body></html>
